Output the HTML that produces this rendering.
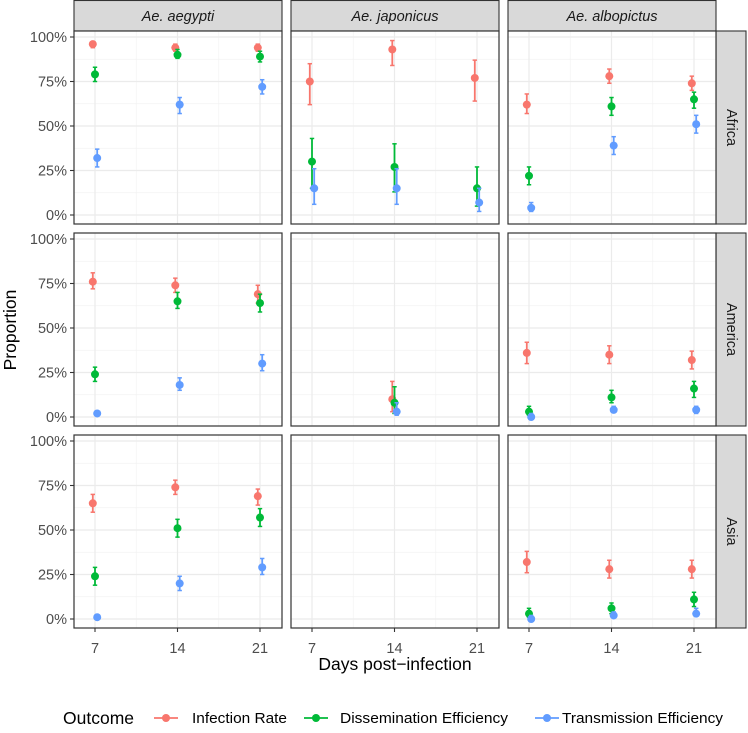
<!DOCTYPE html>
<html><head><meta charset="utf-8"><style>
body{margin:0;background:#fff;}
svg text{font-family:"Liberation Sans",sans-serif;}
</style></head><body>
<svg id="chart" width="748" height="728" viewBox="0 0 748 728" xmlns="http://www.w3.org/2000/svg"></svg>
<script>
const species = ["Ae. aegypti","Ae. japonicus","Ae. albopictus"];
const regions = ["Africa","America","Asia"];
const days = [7,14,21];
const outcomes = ["Infection Rate","Dissemination Efficiency","Transmission Efficiency"];
const colors = ["#F8766D","#00BA38","#619CFF"];
const yTicks = [0,25,50,75,100];
const yTickLabels = ["0%","25%","50%","75%","100%"];
// [region][outcome][species] -> per day [value, lo, hi] (null = missing)
const irAfrica = [[[96,94,97],[94,92,96],[94,92,96]],[[75,62,85],[93,84,98],[77,64,87]],[[62,57,68],[78,74,82],[74,70,78]]];
const deAfrica = [[[79,75,83],[90,88,93],[89,86,92]],[[30,15,43],[27,13,40],[15,5,27]],[[22,17,27],[61,56,66],[65,60,69]]];
const teAfrica = [[[32,27,37],[62,57,66],[72,68,76]],[[15,6,26],[15,6,26],[7,2,15]],[[4,2,7],[39,34,44],[51,46,56]]];
const irAmerica = [[[76,72,81],[74,70,78],[69,64,74]],[null,[10,3,20],null],[[36,30,42],[35,30,40],[32,27,37]]];
const deAmerica = [[[24,20,28],[65,61,70],[64,59,69]],[null,[8,2,17],null],[[3,1,6],[11,8,15],[16,11,20]]];
const teAmerica = [[[2,1,3],[18,15,22],[30,26,35]],[null,[3,1,8],null],[[0,0,2],[4,3,6],[4,2,6]]];
const irAsia = [[[65,60,70],[74,70,78],[69,64,73]],[null,null,null],[[32,26,38],[28,23,33],[28,23,33]]];
const deAsia = [[[24,19,29],[51,46,56],[57,52,62]],[null,null,null],[[3,1,6],[6,3,9],[11,7,15]]];
const teAsia = [[[1,0,2],[20,16,24],[29,25,34]],[null,null,null],[[0,0,2],[2,1,4],[3,2,6]]];
const data = [[irAfrica,deAfrica,teAfrica],[irAmerica,deAmerica,teAmerica],[irAsia,deAsia,teAsia]];

const NS="http://www.w3.org/2000/svg";
const svg=document.getElementById('chart');
function mk(tag,attrs,parent){const e=document.createElementNS(NS,tag);for(const k in attrs)e.setAttribute(k,attrs[k]);(parent||svg).appendChild(e);return e;}
const colL=[74,291,508], rowT=[31,233,435], PW=208, PH=193;
function xs(c,d){return colL[c]+21+(d-7)*(165/14);}
function ys(r,v){return rowT[r]+184-v*1.78;}
const dodge=[-2.2,0,2.2];

species.forEach((s,c)=>{
  const g=mk('g',{});
  
  
  mk('rect',{x:colL[c],y:0.5,width:PW,height:rowT[0]-0.5,fill:'#d9d9d9',stroke:'#333','stroke-width':1.1},g);
  const t=mk('text',{x:colL[c]+PW/2,y:21,'text-anchor':'middle','font-size':14.5,'font-style':'italic',fill:'#1a1a1a'},g);t.textContent=s;
});
regions.forEach((rg,r)=>{
  const g=mk('g',{});
  
  
  mk('rect',{x:716,y:rowT[r],width:30,height:PH,fill:'#d9d9d9',stroke:'#333','stroke-width':1.1},g);
  const cx=731,cy=rowT[r]+PH/2;
  const t=mk('text',{x:cx,y:cy,'text-anchor':'middle','dominant-baseline':'central','font-size':14.5,fill:'#1a1a1a',transform:`rotate(90 ${cx} ${cy})`},g);t.textContent=rg;
});

for(let r=0;r<3;r++)for(let c=0;c<3;c++){
  const g=mk('g',{});
  
  
  const L=colL[c],T=rowT[r];
  mk('rect',{x:L,y:T,width:PW,height:PH,fill:'#fff'},g);
  [12.5,37.5,62.5,87.5].forEach(v=>mk('line',{x1:L,x2:L+PW,y1:ys(r,v),y2:ys(r,v),stroke:'#f2f2f2','stroke-width':0.7},g));
  [10.5,17.5].forEach(d=>mk('line',{x1:xs(c,d),x2:xs(c,d),y1:T,y2:T+PH,stroke:'#f2f2f2','stroke-width':0.7},g));
  yTicks.forEach(v=>mk('line',{x1:L,x2:L+PW,y1:ys(r,v),y2:ys(r,v),stroke:'#ebebeb','stroke-width':1.2},g));
  days.forEach(d=>mk('line',{x1:xs(c,d),x2:xs(c,d),y1:T,y2:T+PH,stroke:'#ebebeb','stroke-width':1.2},g));
  for(let o=0;o<3;o++){
    const arr=data[r][o][c];
    arr.forEach((p,i)=>{
      if(!p)return;
      const x=xs(c,days[i])+dodge[o];
      const m=mk('g',{},g);
      
      
      mk('line',{x1:x,x2:x,y1:ys(r,p[1]),y2:ys(r,p[2]),stroke:colors[o],'stroke-width':1.8},m);
      mk('line',{x1:x-2.2,x2:x+2.2,y1:ys(r,p[1]),y2:ys(r,p[1]),stroke:colors[o],'stroke-width':1.5},m);
      mk('line',{x1:x-2.2,x2:x+2.2,y1:ys(r,p[2]),y2:ys(r,p[2]),stroke:colors[o],'stroke-width':1.5},m);
      mk('circle',{cx:x,cy:ys(r,p[0]),r:4,fill:colors[o]},m);
    });
  }
  mk('rect',{x:L,y:T,width:PW,height:PH,fill:'none',stroke:'#333','stroke-width':1.2},g);
}
for(let r=0;r<3;r++){
  const g=mk('g',{});
  
  
  yTicks.forEach((v,i)=>{
    mk('line',{x1:70,x2:74,y1:ys(r,v),y2:ys(r,v),stroke:'#333','stroke-width':1.1},g);
    const t=mk('text',{x:67,y:ys(r,v)+5,'text-anchor':'end','font-size':14.5,fill:'#4d4d4d'},g);t.textContent=yTickLabels[i];
  });
}
for(let c=0;c<3;c++){
  const g=mk('g',{});
  
  
  days.forEach(d=>{
    mk('line',{x1:xs(c,d),x2:xs(c,d),y1:628,y2:632,stroke:'#333','stroke-width':1.1},g);
    const t=mk('text',{x:xs(c,d),y:653,'text-anchor':'middle','font-size':14.5,fill:'#4d4d4d'},g);t.textContent=d;
  });
}
let t=mk('text',{x:395,y:670,'text-anchor':'middle','font-size':17.5,fill:'#000'});
t.textContent='Days post\u2212infection';
t=mk('text',{x:0,y:0,'text-anchor':'middle','font-size':17.5,fill:'#000',transform:'translate(16 330) rotate(-90)'});
t.textContent='Proportion';
const lg=mk('g',{});

t=mk('text',{x:63,y:724,'font-size':17.5,fill:'#000'},lg);t.textContent='Outcome';
const lx=[166,316,547];
const tx=[192,340,562];
outcomes.forEach((o,i)=>{
  const e=mk('g',{},lg);
  
  
  mk('line',{x1:lx[i]-12,x2:lx[i]+12,y1:718,y2:718,stroke:colors[i],'stroke-width':1.8},e);
  mk('circle',{cx:lx[i],cy:718,r:4,fill:colors[i]},e);
  const tt=mk('text',{x:tx[i],y:723,'font-size':14.5,fill:'#000',textLength:[95,168,161][i],lengthAdjust:'spacingAndGlyphs'},e);tt.textContent=o;
});
</script>
</body></html>
